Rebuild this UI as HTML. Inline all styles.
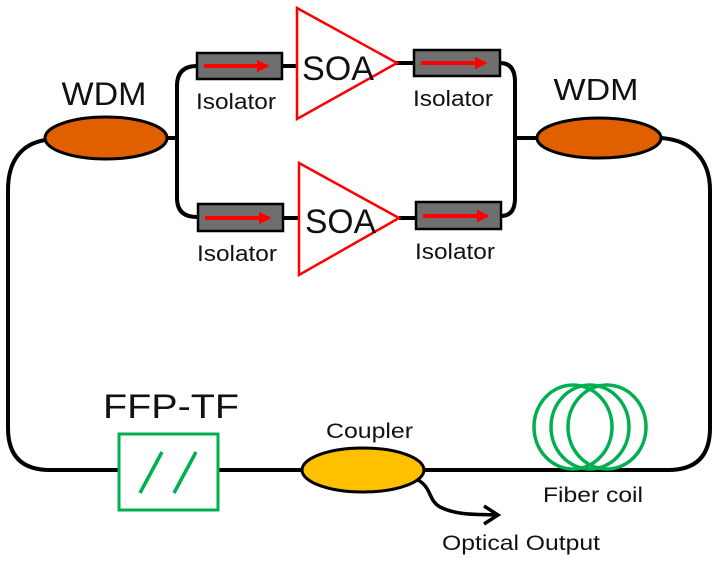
<!DOCTYPE html>
<html><head><meta charset="utf-8"><style>
html,body{margin:0;padding:0;background:#fff;}
svg{display:block;}
text{font-family:"Liberation Sans",Arial,sans-serif;fill:#111;}
</style></head><body>
<svg width="716" height="562" viewBox="0 0 716 562" xmlns="http://www.w3.org/2000/svg">
<defs>
<marker id="ra" viewBox="0 0 10 10" refX="8" refY="5" markerWidth="3.2" markerHeight="3.2" orient="auto"><path d="M0,0 L10,5 L0,10 z" fill="#ff0000"/></marker>
</defs>
<g fill="none" stroke="#000" stroke-width="4">
<!-- outer loop -->
<path d="M45,140 C22,144 8,160 8,190 L8,428 Q8,470 50,470 L668,470 Q710,470 710,428 L710,190 C710,160 692,140 661,138"/>
<!-- left branch -->
<path d="M167,138 L177,138"/>
<path d="M197,66 Q177,66 177,86 L177,198 Q177,217 197,217"/>
<!-- right branch -->
<path d="M500,63 Q515,63 515,82 L515,198 Q515,216 501,216"/>
<path d="M515,138 L537,138"/>
<!-- isolator to SOA connectors -->
<path d="M282,66 L298,66"/>
<path d="M396,63 L414,63"/>
<path d="M283,218 L299,218"/>
<path d="M399,218 L416,218"/>
<!-- output -->
<path d="M418,480 C432,488 428,500 440,507 C458,516 480,514 496,515" stroke-width="3.5"/>
<path d="M484,506 L498,515 L484,524" stroke-width="3.5"/>
</g>
<!-- WDMs -->
<ellipse cx="106" cy="138" rx="61" ry="21" fill="#e06000" stroke="#000" stroke-width="3"/>
<ellipse cx="599" cy="138" rx="62" ry="20" fill="#e06000" stroke="#000" stroke-width="3"/>
<text x="104" y="105" font-size="32" text-anchor="middle" textLength="85" lengthAdjust="spacingAndGlyphs">WDM</text>
<text x="596" y="100" font-size="31" text-anchor="middle" textLength="85" lengthAdjust="spacingAndGlyphs">WDM</text>
<!-- isolators -->
<g fill="#6f6f6f" stroke="#000" stroke-width="2.5">
<rect x="197" y="53" width="85" height="26"/>
<rect x="414" y="50" width="86" height="26"/>
<rect x="198" y="204" width="85" height="27"/>
<rect x="416" y="202" width="85" height="27"/>
</g>
<g stroke="#ff0000" stroke-width="4" marker-end="url(#ra)">
<line x1="204" y1="66" x2="267" y2="66"/>
<line x1="421" y1="63" x2="485" y2="63"/>
<line x1="205" y1="218" x2="269" y2="218"/>
<line x1="423" y1="216" x2="487" y2="216"/>
</g>
<g font-size="22">
<text x="196" y="109" textLength="80" lengthAdjust="spacingAndGlyphs">Isolator</text>
<text x="413" y="106" textLength="80" lengthAdjust="spacingAndGlyphs">Isolator</text>
<text x="197" y="261" textLength="80" lengthAdjust="spacingAndGlyphs">Isolator</text>
<text x="415" y="259" textLength="80" lengthAdjust="spacingAndGlyphs">Isolator</text>
</g>
<!-- SOAs -->
<polygon points="297,8 397,63 297,119" fill="none" stroke="#ff0000" stroke-width="2.5"/>
<polygon points="299,163 399,218 299,275" fill="none" stroke="#ff0000" stroke-width="2.5"/>
<text x="302" y="80" font-size="34" textLength="72" lengthAdjust="spacingAndGlyphs">SOA</text>
<text x="305" y="233" font-size="34" textLength="71" lengthAdjust="spacingAndGlyphs">SOA</text>
<!-- FFP-TF -->
<text x="103" y="418" font-size="34" textLength="136" lengthAdjust="spacingAndGlyphs">FFP-TF</text>
<rect x="119" y="434" width="99" height="76" fill="#fff" stroke="#00b050" stroke-width="3"/>
<g stroke="#00b050" stroke-width="3.5">
<line x1="162" y1="452" x2="140" y2="493"/>
<line x1="196" y1="452" x2="174" y2="493"/>
</g>
<!-- coupler -->
<ellipse cx="363" cy="470" rx="61" ry="22" fill="#ffc000" stroke="#000" stroke-width="3"/>
<text x="326" y="438" font-size="21" textLength="87" lengthAdjust="spacingAndGlyphs">Coupler</text>
<text x="442" y="550" font-size="21" textLength="158" lengthAdjust="spacingAndGlyphs">Optical Output</text>
<!-- fiber coil -->
<g fill="none" stroke="#00b050" stroke-width="3.5">
<ellipse cx="573" cy="427" rx="39" ry="42"/>
<ellipse cx="590" cy="427" rx="39" ry="42"/>
<ellipse cx="607" cy="427" rx="39" ry="42"/>
</g>
<text x="543" y="502" font-size="21" textLength="100" lengthAdjust="spacingAndGlyphs">Fiber coil</text>
</svg>
</body></html>
